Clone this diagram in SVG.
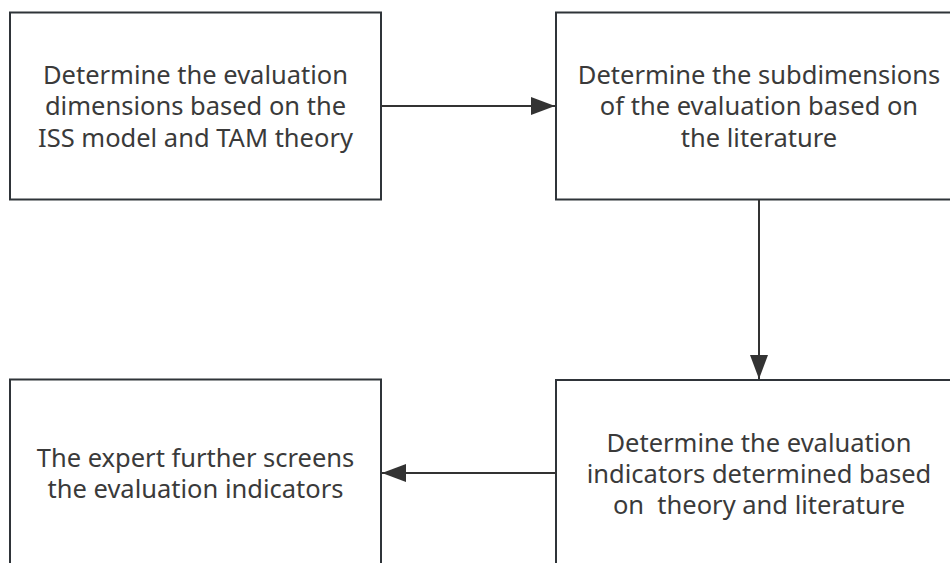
<svg xmlns="http://www.w3.org/2000/svg" width="950" height="563" viewBox="0 0 950 563">
  <defs>
    <style>
      .box { fill: #ffffff; stroke: #2f3439; stroke-width: 2; }
      .label { font-family: "Noto Sans", "Open Sans", sans-serif; font-size: 25.5px; fill: #3a3a3a; text-anchor: middle; white-space: pre; }
      .link { fill: none; stroke: #333333; stroke-width: 2; }
    </style>
    <marker id="arrow" viewBox="0 0 24 18" refX="24" refY="9" markerWidth="24" markerHeight="18" markerUnits="userSpaceOnUse" orient="auto">
      <path d="M0,0 L24,9 L0,18 Z" fill="#333333"/>
    </marker>
  </defs>
  <rect width="950" height="563" fill="#ffffff"/>

  <g id="node-dimensions">
    <rect class="box" x="10" y="12.5" width="371" height="187"/>
    <text class="label" x="195.5" y="83.5">Determine the evaluation</text>
    <text class="label" x="195.5" y="115">dimensions based on the</text>
    <text class="label" x="195.5" y="146.5">ISS model and TAM theory</text>
  </g>

  <g id="node-subdimensions">
    <rect class="box" x="556" y="12.5" width="406" height="187"/>
    <text class="label" x="759" y="83.5">Determine the subdimensions</text>
    <text class="label" x="759" y="115">of the evaluation based on</text>
    <text class="label" x="759" y="146.5">the literature</text>
  </g>

  <g id="node-indicators">
    <rect class="box" x="556" y="380" width="406" height="190"/>
    <text class="label" x="759" y="452">Determine the evaluation</text>
    <text class="label" x="759" y="483">indicators determined based</text>
    <text class="label" x="759" y="514" xml:space="preserve">on  theory and literature</text>
  </g>

  <g id="node-screening">
    <rect class="box" x="10" y="379.5" width="371" height="190"/>
    <text class="label" x="195.5" y="467">The expert further screens</text>
    <text class="label" x="195.5" y="498">the evaluation indicators</text>
  </g>

  <g id="connectors">
    <line class="link" x1="381" y1="106" x2="555" y2="106" marker-end="url(#arrow)"/>
    <line class="link" x1="759" y1="199.5" x2="759" y2="379" marker-end="url(#arrow)"/>
    <line class="link" x1="556" y1="473" x2="382" y2="473" marker-end="url(#arrow)"/>
  </g>
</svg>
